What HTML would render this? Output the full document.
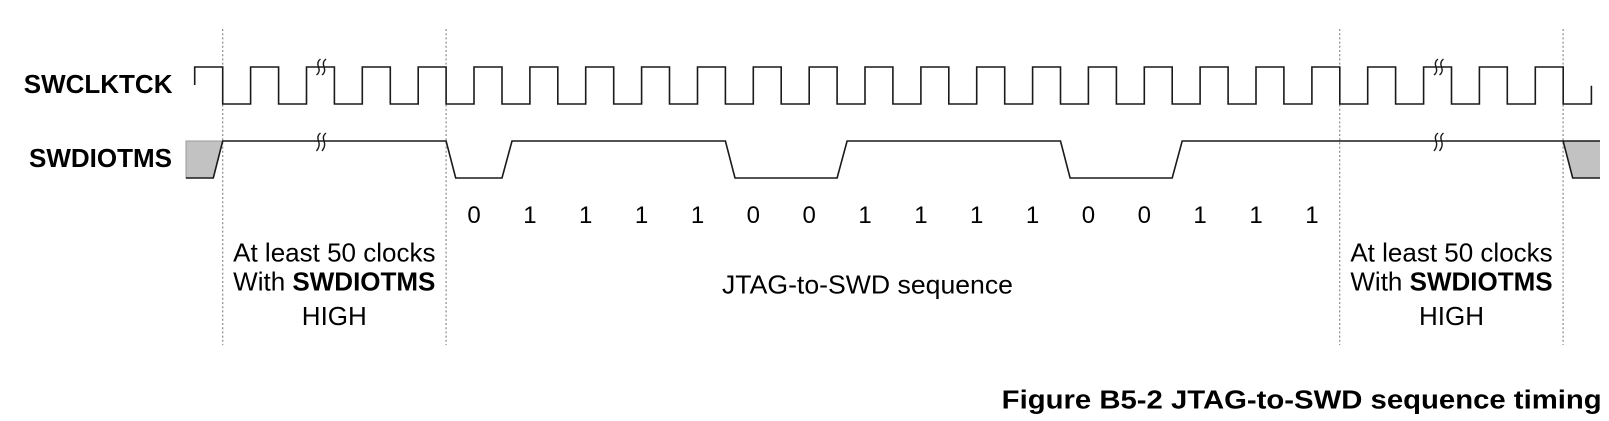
<!DOCTYPE html>
<html>
<head>
<meta charset="utf-8">
<style>
  html,body{margin:0;padding:0;background:#fff;}
  svg{display:block;}
  text{font-family:"Liberation Sans",Arial,sans-serif;fill:#000;}
</style>
</head>
<body>
<svg width="1609" height="421" viewBox="0 0 1609 421" xmlns="http://www.w3.org/2000/svg">
  <rect width="1609" height="421" fill="#fff"/>

  <!-- dotted guide lines -->
  <g stroke="#8a8a8a" stroke-width="1.2" stroke-dasharray="2,2.2" fill="none">
    <line x1="222.7" y1="29" x2="222.7" y2="345"/>
    <line x1="446.1" y1="29" x2="446.1" y2="345"/>
    <line x1="1339.7" y1="29" x2="1339.7" y2="345"/>
    <line x1="1563.1" y1="29" x2="1563.1" y2="345"/>
  </g>

  <!-- signal names -->
  <text x="172.5" y="93" font-size="26" font-weight="bold" text-anchor="end">SWCLKTCK</text>
  <text x="172" y="167" font-size="26" font-weight="bold" text-anchor="end">SWDIOTMS</text>

  <!-- gray undefined boxes -->
  <polygon points="186,141 222.7,141 213.3,178 186,178" fill="#c2c2c2" stroke="#9a9a9a" stroke-width="1"/>
  <polygon points="1563.1,141 1600,141 1600,178 1572.7,178" fill="#c2c2c2" stroke="none"/>

  <!-- clock -->
  <path id="clk" fill="none" stroke="#1a1a1a" stroke-width="1.6" stroke-linejoin="miter"
    d="M194.7,85 V67 H222.7 V104 H250.6 V67 H278.6 V104 H306.5 V67 H334.4 V104 H362.3 V67 H390.3 V104 H418.2 V67 H446.1 V104 H474.0 V67 H502.0 V104 H529.9 V67 H557.8 V104 H585.7 V67 H613.7 V104 H641.6 V67 H669.5 V104 H697.5 V67 H725.4 V104 H753.3 V67 H781.2 V104 H809.2 V67 H837.1 V104 H865.0 V67 H892.9 V104 H920.9 V67 H948.8 V104 H976.7 V67 H1004.7 V104 H1032.6 V67 H1060.5 V104 H1088.4 V67 H1116.4 V104 H1144.3 V67 H1172.2 V104 H1200.1 V67 H1228.1 V104 H1256.0 V67 H1283.9 V104 H1311.9 V67 H1339.8 V104 H1367.7 V67 H1395.6 V104 H1423.6 V67 H1451.5 V104 H1479.4 V67 H1507.3 V104 H1535.3 V67 H1563.2 V104 H1591.4 V85.7"/>

  <!-- SWDIOTMS -->
  <path fill="none" stroke="#1a1a1a" stroke-width="1.6" stroke-linejoin="miter"
    d="M186,178 H213.3 L222.7,141 H446.1 L455.7,178 H502.0 L512.0,141 H725.4 L735.0,178 H837.1 L847.1,141 H1060.5 L1070.1,178 H1172.2 L1182.2,141 H1563.1 L1572.7,178 H1600"/>
  <line x1="1563.1" y1="141" x2="1600" y2="141" stroke="#1a1a1a" stroke-width="1.4"/>

  <!-- break marks -->
  <g fill="none" stroke="#1a1a1a" stroke-width="1.4">
    <path d="M320.5,59 Q316.5,62 318.5,67 Q320.5,72 316.5,75"/>
    <path d="M326,59 Q322,62 324,67 Q326,72 322,75"/>
    <path d="M320.5,133 Q316.5,136 318.5,141 Q320.5,146 316.5,151"/>
    <path d="M326,133 Q322,136 324,141 Q326,146 322,151"/>
    <path d="M1438,59 Q1434,62 1436,67 Q1438,72 1434,75"/>
    <path d="M1443.5,59 Q1439.5,62 1441.5,67 Q1443.5,72 1439.5,75"/>
    <path d="M1438,133 Q1434,136 1436,141 Q1438,146 1434,151"/>
    <path d="M1443.5,133 Q1439.5,136 1441.5,141 Q1443.5,146 1439.5,151"/>
  </g>

  <!-- bit labels -->
  <g font-size="24" text-anchor="middle">
    <text x="474.0" y="223">0</text>
    <text x="529.9" y="223">1</text>
    <text x="585.7" y="223">1</text>
    <text x="641.6" y="223">1</text>
    <text x="697.5" y="223">1</text>
    <text x="753.3" y="223">0</text>
    <text x="809.2" y="223">0</text>
    <text x="865.0" y="223">1</text>
    <text x="920.9" y="223">1</text>
    <text x="976.7" y="223">1</text>
    <text x="1032.6" y="223">1</text>
    <text x="1088.4" y="223">0</text>
    <text x="1144.3" y="223">0</text>
    <text x="1200.1" y="223">1</text>
    <text x="1256.0" y="223">1</text>
    <text x="1311.9" y="223">1</text>
  </g>

  <!-- left annotation -->
  <g font-size="26" text-anchor="middle">
    <text x="334.3" y="261.7">At least 50 clocks</text>
    <text x="334.3" y="290.7">With <tspan font-weight="bold">SWDIOTMS</tspan></text>
    <text x="334.3" y="325">HIGH</text>
  </g>

  <!-- right annotation -->
  <g font-size="26" text-anchor="middle">
    <text x="1451.5" y="261.7">At least 50 clocks</text>
    <text x="1451.5" y="290.7">With <tspan font-weight="bold">SWDIOTMS</tspan></text>
    <text x="1451.5" y="325">HIGH</text>
  </g>

  <!-- middle annotation -->
  <text x="722" y="293.3" font-size="26" textLength="291" lengthAdjust="spacingAndGlyphs">JTAG-to-SWD sequence</text>

  <!-- caption -->
  <text x="1001.7" y="408.3" font-size="25.5" font-weight="bold" textLength="600" lengthAdjust="spacingAndGlyphs">Figure B5-2 JTAG-to-SWD sequence timing</text>
</svg>
</body>
</html>
